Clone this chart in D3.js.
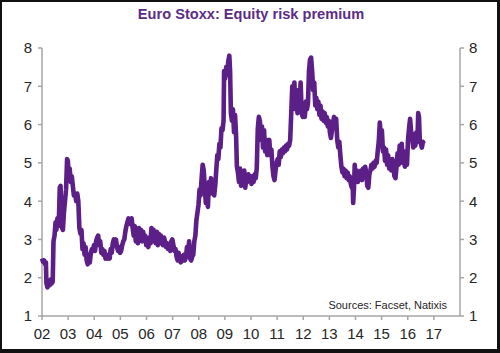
<!DOCTYPE html>
<html>
<head>
<meta charset="utf-8">
<script src="https://cdn.jsdelivr.net/npm/d3@7"></script>
<style>
  body { margin: 0; background: #fff; }
  text { font-family: "Liberation Sans", Arial, sans-serif; }
</style>
</head>
<body>
<div id="chart"></div>
<script>
// values (decimal year, premium in %)
var obsTime = [
  2002.00, 2002.04, 2002.08, 2002.12, 2002.15, 2002.17, 2002.21, 2002.25, 2002.29, 2002.33,
  2002.37, 2002.41, 2002.44, 2002.48, 2002.52, 2002.55, 2002.59, 2002.62, 2002.65, 2002.68,
  2002.71, 2002.74, 2002.77, 2002.80, 2002.84, 2002.88, 2002.92, 2002.96, 2002.99, 2003.02,
  2003.06, 2003.10, 2003.14, 2003.18, 2003.22, 2003.27, 2003.31, 2003.35, 2003.39, 2003.43,
  2003.47, 2003.51, 2003.55, 2003.59, 2003.63, 2003.67, 2003.71, 2003.75, 2003.79, 2003.83,
  2003.87, 2003.91, 2003.95, 2003.99, 2004.03, 2004.07, 2004.11, 2004.15, 2004.19, 2004.23,
  2004.27, 2004.31, 2004.35, 2004.39, 2004.43, 2004.47, 2004.51, 2004.55, 2004.59, 2004.63,
  2004.67, 2004.71, 2004.75, 2004.79, 2004.83, 2004.87, 2004.91, 2004.95, 2004.99, 2005.03,
  2005.07, 2005.11, 2005.15, 2005.19, 2005.23, 2005.27, 2005.31, 2005.35, 2005.39, 2005.43,
  2005.47, 2005.51, 2005.55, 2005.59, 2005.63, 2005.67, 2005.71, 2005.75, 2005.79, 2005.83,
  2005.87, 2005.91, 2005.95, 2005.99, 2006.03, 2006.07, 2006.11, 2006.15, 2006.19, 2006.23,
  2006.27, 2006.31, 2006.35, 2006.39, 2006.43, 2006.47, 2006.51, 2006.55, 2006.59, 2006.63,
  2006.67, 2006.71, 2006.75, 2006.79, 2006.83, 2006.87, 2006.91, 2006.95, 2006.99, 2007.03,
  2007.07, 2007.11, 2007.15, 2007.19, 2007.23, 2007.27, 2007.31, 2007.35, 2007.39, 2007.43,
  2007.47, 2007.51, 2007.55, 2007.59, 2007.63, 2007.67, 2007.71, 2007.75, 2007.79, 2007.83,
  2007.87, 2007.91, 2007.95, 2007.99, 2008.03, 2008.07, 2008.11, 2008.15, 2008.19, 2008.23,
  2008.27, 2008.31, 2008.35, 2008.39, 2008.43, 2008.47, 2008.51, 2008.55, 2008.59, 2008.63,
  2008.67, 2008.71, 2008.75, 2008.79, 2008.83, 2008.87, 2008.91, 2008.95, 2008.97, 2009.01,
  2009.05, 2009.09, 2009.13, 2009.17, 2009.20, 2009.23, 2009.27, 2009.31, 2009.35, 2009.39,
  2009.43, 2009.46, 2009.50, 2009.54, 2009.58, 2009.62, 2009.66, 2009.70, 2009.74, 2009.78,
  2009.82, 2009.86, 2009.90, 2009.94, 2009.98, 2010.02, 2010.06, 2010.10, 2010.14, 2010.18,
  2010.22, 2010.26, 2010.30, 2010.34, 2010.38, 2010.42, 2010.46, 2010.50, 2010.54, 2010.58,
  2010.62, 2010.66, 2010.70, 2010.74, 2010.78, 2010.82, 2010.86, 2010.90, 2010.94, 2010.98,
  2011.02, 2011.06, 2011.10, 2011.14, 2011.18, 2011.22, 2011.26, 2011.30, 2011.34, 2011.38,
  2011.42, 2011.46, 2011.50, 2011.54, 2011.58, 2011.62, 2011.66, 2011.70, 2011.74, 2011.78,
  2011.82, 2011.86, 2011.90, 2011.94, 2011.98, 2012.02, 2012.06, 2012.10, 2012.14, 2012.18,
  2012.22, 2012.26, 2012.30, 2012.34, 2012.38, 2012.42, 2012.46, 2012.50, 2012.54, 2012.58,
  2012.62, 2012.66, 2012.70, 2012.74, 2012.78, 2012.82, 2012.86, 2012.90, 2012.94, 2012.98,
  2013.02, 2013.06, 2013.10, 2013.14, 2013.18, 2013.22, 2013.26, 2013.30, 2013.34, 2013.38,
  2013.42, 2013.46, 2013.50, 2013.54, 2013.58, 2013.62, 2013.66, 2013.70, 2013.74, 2013.78,
  2013.82, 2013.86, 2013.89, 2013.91, 2013.94, 2013.97, 2014.01, 2014.05, 2014.09, 2014.13,
  2014.17, 2014.21, 2014.25, 2014.29, 2014.33, 2014.37, 2014.41, 2014.45, 2014.49, 2014.53,
  2014.57, 2014.61, 2014.65, 2014.69, 2014.73, 2014.77, 2014.81, 2014.85, 2014.89, 2014.93,
  2014.97, 2015.01, 2015.05, 2015.09, 2015.13, 2015.17, 2015.21, 2015.25, 2015.29, 2015.33,
  2015.37, 2015.41, 2015.45, 2015.49, 2015.53, 2015.57, 2015.61, 2015.65, 2015.69, 2015.73,
  2015.77, 2015.81, 2015.85, 2015.89, 2015.93, 2015.97, 2016.01, 2016.05, 2016.09, 2016.13,
  2016.17, 2016.21, 2016.25, 2016.29, 2016.33, 2016.37, 2016.40, 2016.43, 2016.46, 2016.50,
  2016.54, 2016.58, 2016.61
];
var obsValue = [
  2.50, 2.42, 2.45, 2.35, 2.40, 1.85, 1.75, 1.90, 1.80, 1.95,
  1.85, 1.90, 2.95, 3.10, 3.45, 3.25, 3.55, 3.35, 3.60, 4.35,
  4.40, 3.50, 3.30, 3.25, 3.70, 4.00, 4.30, 5.10, 5.05, 4.70,
  4.85, 4.50, 4.65, 4.40, 4.15, 4.20, 4.00, 4.20, 4.00, 3.30,
  3.15, 3.25, 2.75, 2.90, 2.60, 2.80, 2.45, 2.35, 2.60, 2.40,
  2.65, 2.75, 2.70, 2.85, 2.70, 2.95, 3.05, 3.10, 2.85, 2.95,
  2.65, 2.75, 2.60, 2.70, 2.50, 2.60, 2.50, 2.55, 2.50, 2.75,
  2.65, 2.90, 3.00, 2.85, 3.00, 2.80, 2.70, 2.80, 2.65, 2.70,
  2.85, 2.95, 3.00, 3.20, 3.35, 3.45, 3.55, 3.50, 3.40, 3.55,
  3.30, 3.10, 3.35, 2.95, 3.25, 2.90, 3.30, 3.10, 3.25, 2.95,
  3.20, 3.00, 3.10, 2.85, 2.95, 2.80, 3.05, 2.90, 3.30, 2.95,
  3.25, 3.10, 2.90, 3.20, 2.85, 3.15, 2.90, 3.10, 2.95, 2.85,
  3.05, 2.95, 2.80, 2.90, 2.75, 2.85, 2.70, 2.95, 3.00, 2.85,
  2.70, 2.75, 2.55, 2.45, 2.65, 2.50, 2.40, 2.55, 2.45, 2.60,
  2.45, 2.55, 2.80, 2.60, 2.95, 2.50, 2.45, 2.55, 2.60, 2.95,
  3.10, 3.50, 3.70, 3.90, 4.30, 4.15, 4.60, 4.95, 4.80, 4.40,
  3.95, 4.20, 3.85, 4.50, 4.35, 4.60, 4.20, 4.45, 4.15, 4.40,
  4.80, 5.20, 5.10, 5.50, 5.40, 5.90, 5.85, 6.10, 7.40, 7.20,
  7.50, 7.30, 7.65, 7.80, 7.40, 6.30, 6.10, 6.40, 5.80, 6.25,
  5.70, 4.90, 4.75, 4.50, 4.85, 4.40, 4.70, 4.45, 4.80, 4.35,
  4.60, 4.50, 4.70, 4.55, 4.65, 4.45, 4.65, 4.50, 4.70, 4.60,
  4.85, 5.90, 6.20, 6.10, 5.60, 5.95, 5.40, 5.85, 5.30, 5.60,
  5.20, 5.50, 5.60, 5.20, 5.35, 4.90, 4.65, 4.55, 4.80, 5.00,
  5.10, 4.95, 5.30, 5.15, 5.35, 5.25, 5.40, 5.30, 5.45, 5.35,
  5.50, 5.45, 5.60, 6.30, 7.00, 6.60, 7.10, 6.40, 6.80, 6.30,
  6.90, 6.50, 7.10, 6.30, 6.20, 6.50, 6.20, 6.60, 6.40, 6.55,
  7.40, 7.70, 7.75, 7.40, 6.90, 7.10, 6.50, 6.70, 6.40, 6.60,
  6.25, 6.50, 6.15, 6.35, 6.10, 6.30, 6.05, 6.20, 5.95, 6.10,
  5.80, 5.65, 5.85, 6.05, 6.20, 6.00, 6.15, 5.60, 5.40, 5.55,
  5.20, 4.90, 4.75, 4.85, 4.65, 4.80, 4.60, 4.75, 4.55, 4.65,
  4.45, 4.35, 4.50, 3.95, 4.30, 4.95, 4.55, 4.80, 4.50, 4.70,
  4.60, 4.80, 4.55, 4.85, 4.65, 4.90, 4.75, 4.40, 4.35, 4.70,
  4.80, 4.95, 4.85, 5.00, 4.90, 5.05, 5.00, 5.30, 5.55, 6.05,
  5.70, 5.85, 5.30, 5.40, 5.05, 5.35, 4.95, 5.20, 4.85, 5.05,
  4.80, 5.10, 4.90, 4.65, 4.60, 4.90, 5.25, 4.95, 5.45, 5.05,
  5.50, 5.00, 5.30, 4.90, 5.10, 4.95, 5.60, 5.90, 6.15, 5.80,
  5.65, 5.40, 5.75, 5.45, 5.80, 5.55, 6.30, 6.20, 5.60, 5.50,
  5.40, 5.55, 5.50
];
var yTicks = [1, 2, 3, 4, 5, 6, 7, 8];
var xTickYears = [2002, 2003, 2004, 2005, 2006, 2007, 2008, 2009, 2010, 2011, 2012, 2013, 2014, 2015, 2016, 2017];
var xTickLabels = ["02", "03", "04", "05", "06", "07", "08", "09", "10", "11", "12", "13", "14", "15", "16", "17"];
var title = "Euro Stoxx: Equity risk premium";
var source = "Sources: Facset, Natixis";

var W = 500, H = 353;
var plotLeft = 42, plotRight = 460, plotTop = 48, plotBottom = 316;
var axisColor = "#a6a6a6", lineColor = "#5b1f87", labelColor = "#262626";

var svg = d3.select("#chart").append("svg")
    .attr("width", W)
    .attr("height", H);

// frame
svg.append("rect").attr("width", W).attr("height", H).attr("fill", "#111");
svg.append("rect").attr("x", 2).attr("y", 2).attr("width", W - 5).attr("height", H - 6).attr("fill", "#fff");

var x = d3.scaleLinear().domain([2002, 2018]).range([plotLeft, plotRight]);
var y = d3.scaleLinear().domain([1, 8]).range([plotBottom, plotTop]);

// axes
var g = svg.append("g");
g.append("line").attr("x1", plotLeft).attr("x2", plotLeft).attr("y1", y(8)).attr("y2", y(1))
    .attr("stroke", axisColor).attr("stroke-width", 1.5);
g.append("line").attr("x1", plotRight).attr("x2", plotRight).attr("y1", y(8)).attr("y2", y(1))
    .attr("stroke", axisColor).attr("stroke-width", 1.5);
g.append("line").attr("x1", plotLeft).attr("x2", plotRight).attr("y1", y(1)).attr("y2", y(1))
    .attr("stroke", axisColor).attr("stroke-width", 1.5);

g.selectAll(".ltick").data(yTicks).enter().append("line")
    .attr("x1", plotLeft - 4).attr("x2", plotLeft)
    .attr("y1", function(d){ return y(d); }).attr("y2", function(d){ return y(d); })
    .attr("stroke", axisColor).attr("stroke-width", 1.5);
g.selectAll(".rtick").data(yTicks).enter().append("line")
    .attr("x1", plotRight).attr("x2", plotRight + 4)
    .attr("y1", function(d){ return y(d); }).attr("y2", function(d){ return y(d); })
    .attr("stroke", axisColor).attr("stroke-width", 1.5);
g.selectAll(".xtick").data(xTickYears).enter().append("line")
    .attr("x1", function(d){ return x(d); }).attr("x2", function(d){ return x(d); })
    .attr("y1", y(1)).attr("y2", y(1) + 4)
    .attr("stroke", axisColor).attr("stroke-width", 1.5);

g.selectAll(".llab").data(yTicks).enter().append("text")
    .attr("x", plotLeft - 10).attr("y", function(d){ return y(d); })
    .attr("dy", "0.36em").attr("text-anchor", "end")
    .attr("font-size", 15).attr("fill", labelColor)
    .text(function(d){ return d; });
g.selectAll(".rlab").data(yTicks).enter().append("text")
    .attr("x", plotRight + 9).attr("y", function(d){ return y(d); })
    .attr("dy", "0.36em").attr("text-anchor", "start")
    .attr("font-size", 15).attr("fill", labelColor)
    .text(function(d){ return d; });
g.selectAll(".xlab").data(xTickYears).enter().append("text")
    .attr("x", function(d){ return x(d); }).attr("y", 339)
    .attr("text-anchor", "middle")
    .attr("font-size", 15).attr("fill", labelColor)
    .text(function(d, i){ return xTickLabels[i]; });

// series
var data = obsTime.map(function(t, i){ return { t: t, v: obsValue[i] }; });
var line = d3.line()
    .x(function(d){ return x(d.t); })
    .y(function(d){ return y(d.v); });
svg.append("path").datum(data)
    .attr("d", line)
    .attr("fill", "none")
    .attr("stroke", lineColor)
    .attr("stroke-width", 4.6)
    .attr("stroke-linejoin", "round");

svg.append("text")
    .attr("x", 251).attr("y", 19)
    .attr("text-anchor", "middle")
    .attr("font-size", 14.6).attr("font-weight", "bold")
    .attr("fill", "#5c2d85")
    .text(title);

svg.append("text")
    .attr("x", 447).attr("y", 309)
    .attr("text-anchor", "end")
    .attr("font-size", 11).attr("fill", labelColor)
    .text(source);
</script>
</body>
</html>
